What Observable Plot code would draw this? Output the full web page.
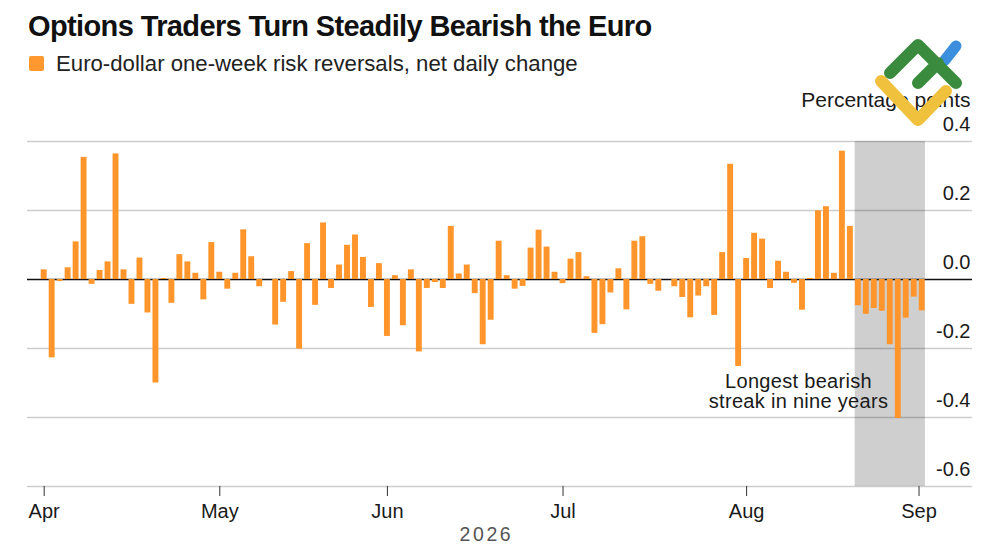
<!DOCTYPE html>
<html>
<head>
<meta charset="utf-8">
<script src="https://cdn.jsdelivr.net/npm/d3@7"></script>
<script src="https://cdn.jsdelivr.net/npm/@observablehq/plot@0.6"></script>
<style>
html,body{margin:0;padding:0;background:#fff;overflow:hidden;}
body{width:1000px;height:545px;position:relative;font-family:"Liberation Sans",Arial,sans-serif;color:#111;}
#head{height:85px;position:relative;}
#title{position:absolute;left:28px;top:10px;font-size:29px;font-weight:700;letter-spacing:-0.62px;line-height:32px;white-space:nowrap;}
#legend{position:absolute;left:29px;top:51px;font-size:22.2px;line-height:26px;white-space:nowrap;color:#222;}
#legend i{position:absolute;left:0;top:5px;width:15px;height:15px;background:#ff982e;border-radius:2px;}
#legend span{margin-left:27px;}
#logo{position:absolute;left:0;top:0;pointer-events:none;}
#chart svg{display:block;}
[aria-label="year"]{letter-spacing:2.6px;}
[aria-label="streak note"]{letter-spacing:0.3px;}
</style>
</head>
<body>
<div id="head">
  <div id="title">Options Traders Turn Steadily Bearish the Euro</div>
  <div id="legend"><i></i><span>Euro-dollar one-week risk reversals, net daily change</span></div>
</div>
<div id="chart"></div>
<svg id="logo" width="1000" height="545" fill="none" stroke-linecap="round" stroke-linejoin="round" stroke-width="12">
  <path d="M945 60L956 46" stroke="#3b8fdc" stroke-width="11"/>
  <path d="M890 73L918 45L956 83M918 83L938 63" stroke="#3a8b3d"/>
  <path d="M881 81L918 120L946 91" stroke="#f0c13c"/>
</svg>
<script>
const values = [
  0.028,-0.227,-0.006,0.034,0.109,0.354,-0.014,0.026,0.051,0.364,
  0.028,-0.072,0.062,-0.097,-0.300,0.003,-0.069,0.072,0.051,0.018,
  -0.059,0.107,0.021,-0.028,0.018,0.144,0.066,-0.021,0.000,-0.132,
  -0.066,0.023,-0.202,0.104,-0.075,0.164,-0.026,0.042,0.099,0.129,
  0.064,-0.081,0.046,-0.165,0.011,-0.134,0.028,-0.210,-0.026,-0.009,
  -0.026,0.154,0.016,0.042,-0.041,-0.189,-0.118,0.111,0.011,-0.028,
  -0.020,0.091,0.143,0.094,0.021,-0.012,0.059,0.078,0.008,-0.156,
  -0.131,-0.039,0.031,-0.088,0.111,0.124,-0.014,-0.034,0.000,-0.021,
  -0.052,-0.111,-0.048,-0.021,-0.104,0.078,0.334,-0.252,0.061,0.134,
  0.117,-0.026,0.053,0.021,-0.011,-0.089,0.003,0.199,0.211,0.018,
  0.372,0.154,-0.076,-0.101,-0.084,-0.092,-0.189,-0.403,-0.112,-0.051,-0.091
];
const monthLabels = ["Apr","May","Jun","Jul","Aug","Sep"];
const monthPositions = [0,22,43,65,88,109.6];
const yTicks = [0.4,0.2,-0.2,-0.4,-0.6];
const yLabels = [0.4,0.2,0,-0.2,-0.4,-0.6];
const streak = [{x1:101.6,x2:110.4,y1:-0.6,y2:0.4}];
const barHalf = 0.37;
const rows = values.map((v,i)=>({i,v}));

const plot = Plot.plot({
  width:1000, height:460,
  marginTop:56, marginBottom:59, marginLeft:27, marginRight:28,
  style:{fontFamily:'"Liberation Sans",Arial,sans-serif',background:"transparent",overflow:"visible"},
  x:{type:"linear",domain:[-2.09,116.3],axis:null},
  y:{domain:[-0.6,0.4],axis:null},
  marks:[
    Plot.rect(streak,{x1:"x1",x2:"x2",y1:"y1",y2:"y2",fill:"#cfcfcf"}),
    Plot.ruleY(yTicks,{stroke:"#000",strokeOpacity:0.2,strokeWidth:1.4}),
    Plot.ruleY([0],{stroke:"#111",strokeWidth:1.4}),
    Plot.rect(rows,{x1:d=>d.i-barHalf,x2:d=>d.i+barHalf,y1:()=>0,y2:"v",fill:"#ff952b"}),
    Plot.axisY(yLabels,{anchor:"right",tickSize:0,tickPadding:-2,textAnchor:"end",dy:-17,fontSize:20,fill:"#1a1a1a",
      tickFormat:d=>d.toFixed(1),label:null}),
    Plot.text(["Percentage points"],{frameAnchor:"top-right",dx:-2,dy:-49,fontSize:21,fill:"#1a1a1a",textAnchor:"end"}),
    Plot.axisX(monthPositions,{anchor:"bottom",tickSize:10,tickPadding:7,fontSize:20,fill:"#1a1a1a",stroke:"#333",strokeWidth:1,
      tickFormat:(d,i)=>monthLabels[i],label:null}),
    Plot.text(["2026"],{x:()=>55.4,frameAnchor:"bottom",dy:54,fontSize:19.5,fill:"#555",ariaLabel:()=>"year"}),
    Plot.text(["Longest bearish\nstreak in nine years"],{x:()=>94.5,y:()=>-0.325,fontSize:20,lineHeight:1.02,fill:"#1a1a1a",ariaLabel:()=>"streak note"})
  ]
});
document.getElementById("chart").appendChild(plot);
</script>
</body>
</html>
